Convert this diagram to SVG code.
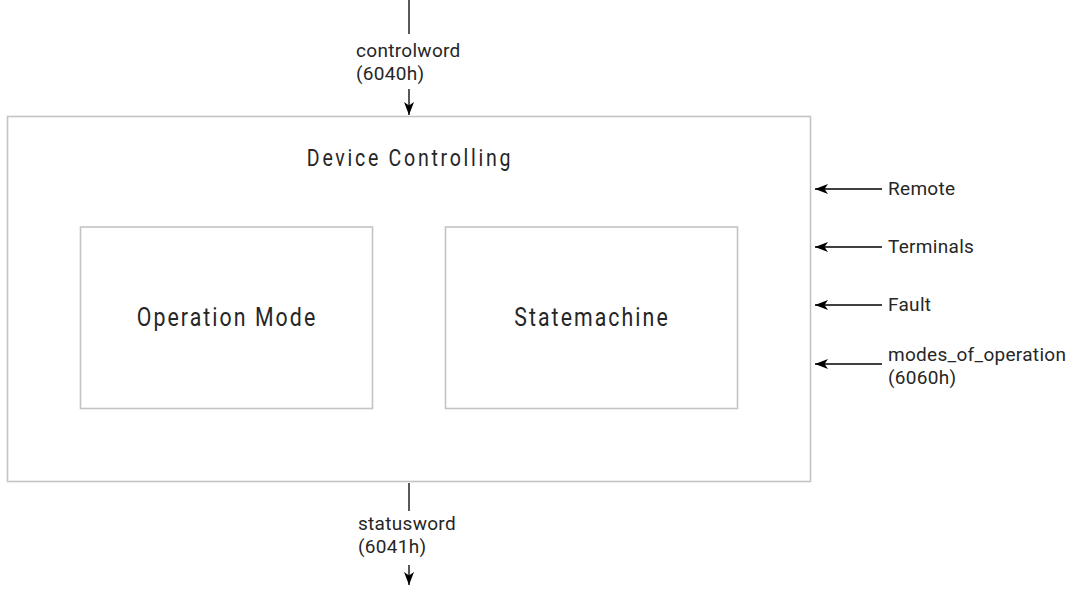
<svg xmlns="http://www.w3.org/2000/svg" width="1084" height="592" viewBox="0 0 1084 592">
<style>
.box{fill:#fff;stroke:#c4c4c4;stroke-width:1.6}
.ln{stroke:#000;stroke-width:1.3;fill:none}
.t{font-family:Roboto,"Liberation Sans",sans-serif;fill:#262626}
.big{font-size:26px;letter-spacing:2.5px}
.mid{font-size:23px;letter-spacing:3.2px}
.sm{font-size:19px;letter-spacing:0.3px}
</style>
<defs>
<marker id="ah" markerWidth="13" markerHeight="10" refX="13" refY="5" orient="auto" markerUnits="userSpaceOnUse">
<path d="M0,0 L13,5 L0,10 L3.5,5 Z" fill="#000"/>
</marker>
</defs>
<rect width="1084" height="592" fill="#fff"/>
<g id="device-controlling">
<rect class="box" x="7.5" y="116.5" width="803" height="365"/>
<text class="t mid" text-anchor="middle" transform="translate(410,166) scale(0.85,1)">Device Controlling</text>
</g>
<g id="operation-mode">
<rect class="box" x="80.5" y="227" width="292" height="181.5"/>
<text class="t big" text-anchor="middle" transform="translate(227,326) scale(0.82,1)">Operation Mode</text>
</g>
<g id="statemachine">
<rect class="box" x="445.5" y="227" width="292" height="181.5"/>
<text class="t big" text-anchor="middle" transform="translate(592,326) scale(0.82,1)">Statemachine</text>
</g>
<g id="connectors">
<line class="ln" x1="409" y1="0" x2="409" y2="34"/>
<line class="ln" x1="409" y1="89" x2="409" y2="115" marker-end="url(#ah)"/>
<line class="ln" x1="409" y1="483" x2="409" y2="511"/>
<line class="ln" x1="409" y1="565" x2="409" y2="585" marker-end="url(#ah)"/>
<line class="ln" x1="882" y1="189" x2="815" y2="189" marker-end="url(#ah)"/>
<line class="ln" x1="882" y1="247" x2="815" y2="247" marker-end="url(#ah)"/>
<line class="ln" x1="882" y1="305" x2="815" y2="305" marker-end="url(#ah)"/>
<line class="ln" x1="882" y1="364" x2="815" y2="364" marker-end="url(#ah)"/>
</g>
<g id="labels">
<text class="t sm" x="356" y="57">controlword</text>
<text class="t sm" x="356" y="80">(6040h)</text>
<text class="t sm" x="358" y="530">statusword</text>
<text class="t sm" x="358" y="553">(6041h)</text>
<text class="t sm" x="888" y="195">Remote</text>
<text class="t sm" x="888" y="253">Terminals</text>
<text class="t sm" x="888" y="311">Fault</text>
<text class="t sm" x="888" y="361">modes_of_operation</text>
<text class="t sm" x="888" y="384">(6060h)</text>
</g>
</svg>
